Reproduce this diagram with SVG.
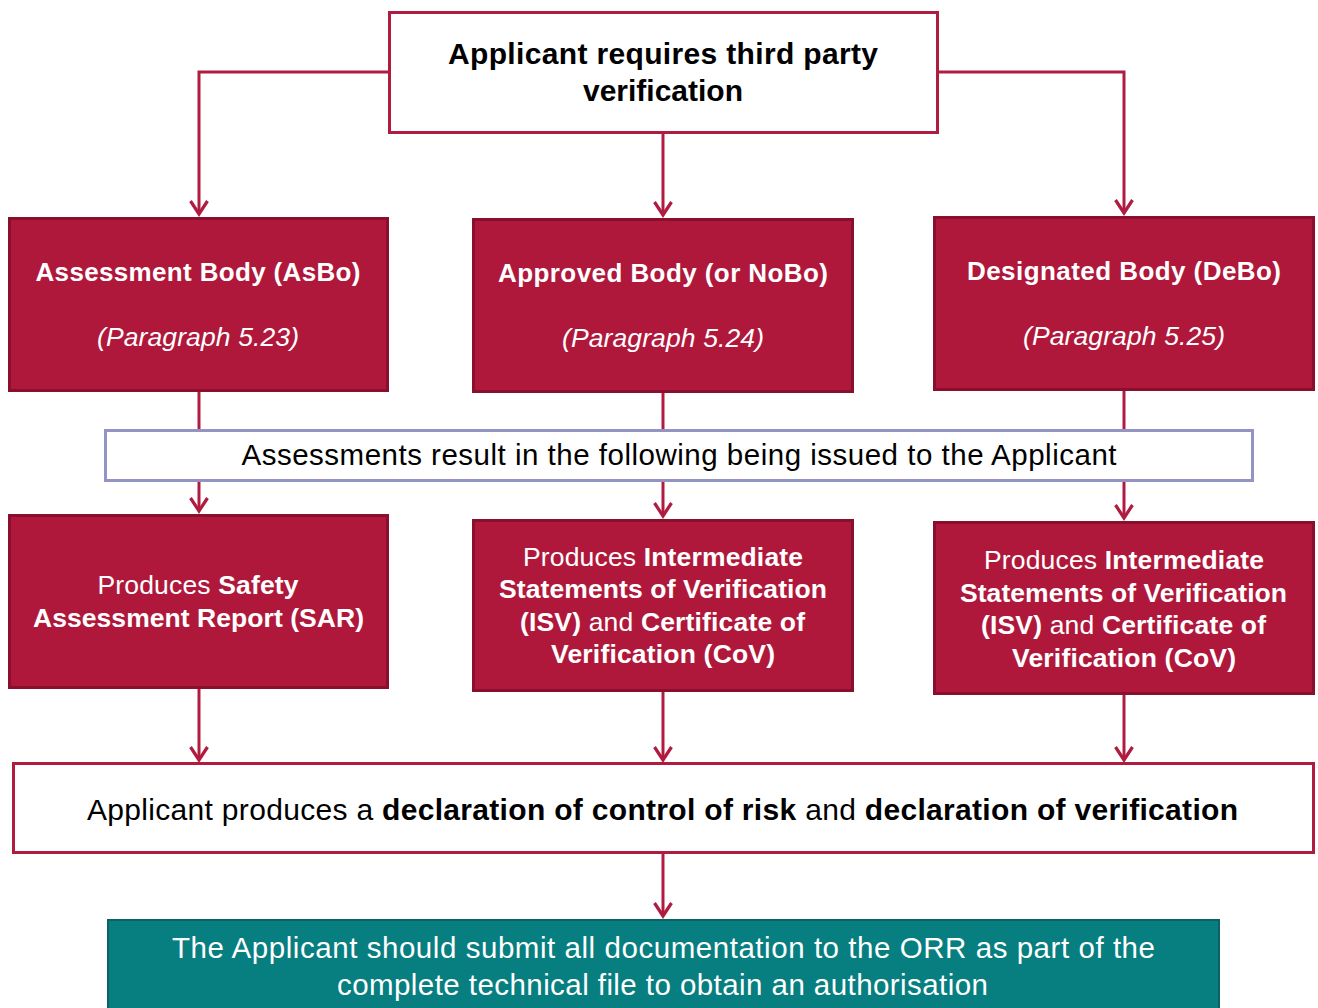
<svg xmlns="http://www.w3.org/2000/svg" width="1318" height="1008" viewBox="0 0 1318 1008">
  <style>
    text { font-family: "Liberation Sans", Arial, sans-serif; text-anchor: middle; }
    .dark { fill: #000000; }
    .light { fill: #ffffff; }
    .b { font-weight: bold; }
    .i { font-style: italic; }
    .body { fill: #AF183B; stroke: #8A0F2C; stroke-width: 3; }
    .outline { fill: #ffffff; stroke: #B01C40; stroke-width: 3; }
    .band { fill: #ffffff; stroke: #9494C4; stroke-width: 3; }
    .final { fill: #077E7F; stroke: #0C6262; stroke-width: 2; }
    .link { fill: none; stroke: #B01C40; stroke-width: 3; }
  </style>
  <defs>
    <marker id="chevron" markerUnits="userSpaceOnUse" markerWidth="22" markerHeight="22" refX="0" refY="0" viewBox="-15 -11 17 22" orient="auto">
      <path d="M-13,-8.5 L0,0 L-13,8.5" fill="none" stroke="#B01C40" stroke-width="3.2"/>
    </marker>
  </defs>

  <rect width="1318" height="1008" fill="#ffffff"/>

  <!-- connectors -->
  <g id="connectors">
    <path class="link" d="M389,72 H199 V214" marker-end="url(#chevron)"/>
    <path class="link" d="M937,72 H1124 V213" marker-end="url(#chevron)"/>
    <path class="link" d="M663,133 V215" marker-end="url(#chevron)"/>

    <path class="link" d="M199,391 V511" marker-end="url(#chevron)"/>
    <path class="link" d="M663,392 V516" marker-end="url(#chevron)"/>
    <path class="link" d="M1124,390 V518" marker-end="url(#chevron)"/>

    <path class="link" d="M199,689 V760" marker-end="url(#chevron)"/>
    <path class="link" d="M663,692 V760" marker-end="url(#chevron)"/>
    <path class="link" d="M1124,695 V760" marker-end="url(#chevron)"/>

    <path class="link" d="M663,853 V916" marker-end="url(#chevron)"/>
  </g>

  <!-- start -->
  <g id="node-start">
    <rect class="outline" x="389.5" y="12.5" width="548" height="120"/>
    <text class="dark b" x="663" y="64" font-size="30" textLength="430">Applicant requires third party</text>
    <text class="dark b" x="663" y="101" font-size="30" textLength="160">verification</text>
  </g>

  <!-- verifier bodies -->
  <g id="node-asbo">
    <rect class="body" x="9.5" y="218.5" width="378" height="172"/>
    <text class="light b" x="198" y="281" font-size="26" textLength="325">Assessment Body (AsBo)</text>
    <text class="light i" x="198" y="346" font-size="26.5" textLength="202">(Paragraph 5.23)</text>
  </g>
  <g id="node-nobo">
    <rect class="body" x="473.5" y="219.5" width="379" height="172"/>
    <text class="light b" x="663" y="282" font-size="26" textLength="330">Approved Body (or NoBo)</text>
    <text class="light i" x="663" y="347" font-size="26.5" textLength="202">(Paragraph 5.24)</text>
  </g>
  <g id="node-debo">
    <rect class="body" x="934.5" y="217.5" width="379" height="172"/>
    <text class="light b" x="1124" y="280" font-size="26" textLength="314">Designated Body (DeBo)</text>
    <text class="light i" x="1124" y="345" font-size="26.5" textLength="202">(Paragraph 5.25)</text>
  </g>

  <!-- outcome band -->
  <g id="node-outcomes">
    <rect class="band" x="105.5" y="430.5" width="1147" height="50"/>
    <text class="dark" x="679" y="465" font-size="29.5" textLength="875">Assessments result in the following being issued to the Applicant</text>
  </g>

  <!-- issued documents -->
  <g id="node-sar">
    <rect class="body" x="9.5" y="515.5" width="378" height="172"/>
    <text class="light" x="198" y="594" font-size="26.5" textLength="201">Produces <tspan class="b">Safety</tspan></text>
    <text class="light b" x="198.5" y="627" font-size="26.5" textLength="331">Assessment Report (SAR)</text>
  </g>
  <g id="node-isv-nobo">
    <rect class="body" x="473.5" y="520.5" width="379" height="170"/>
    <text class="light" x="663" y="566" font-size="26.5" textLength="280">Produces <tspan class="b">Intermediate</tspan></text>
    <text class="light b" x="663" y="598" font-size="26.5" textLength="328">Statements of Verification</text>
    <text class="light" x="662.5" y="631" font-size="26.5" textLength="285"><tspan class="b">(ISV)</tspan> and <tspan class="b">Certificate of</tspan></text>
    <text class="light b" x="663" y="663" font-size="26.5" textLength="224">Verification (CoV)</text>
  </g>
  <g id="node-isv-debo">
    <rect class="body" x="934.5" y="522.5" width="379" height="171"/>
    <text class="light" x="1124" y="569" font-size="26.5" textLength="280">Produces <tspan class="b">Intermediate</tspan></text>
    <text class="light b" x="1123.5" y="602" font-size="26.5" textLength="327">Statements of Verification</text>
    <text class="light" x="1123.5" y="634" font-size="26.5" textLength="285"><tspan class="b">(ISV)</tspan> and <tspan class="b">Certificate of</tspan></text>
    <text class="light b" x="1124" y="667" font-size="26.5" textLength="224">Verification (CoV)</text>
  </g>

  <!-- declarations -->
  <g id="node-declaration">
    <rect class="outline" x="13.5" y="763.5" width="1300" height="89"/>
    <text class="dark" x="662.5" y="820" font-size="30" textLength="1151">Applicant produces a <tspan class="b">declaration of control of risk</tspan> and <tspan class="b">declaration of verification</tspan></text>
  </g>

  <!-- submission -->
  <g id="node-submission">
    <rect class="final" x="108" y="920" width="1111" height="100"/>
    <text class="light" x="663.5" y="958" font-size="29.5" textLength="983">The Applicant should submit all documentation to the ORR as part of the</text>
    <text class="light" x="662.5" y="995" font-size="29.5" textLength="651">complete technical file to obtain an authorisation</text>
  </g>
</svg>
